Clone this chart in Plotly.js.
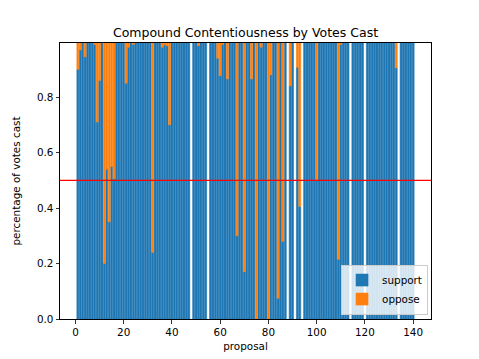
<!DOCTYPE html>
<html>
<head>
<meta charset="utf-8">
<script src="https://cdn.plot.ly/plotly-3.0.1.min.js"></script>
<style>
  html, body { margin: 0; padding: 0; background: #fff; }
  #graph { width: 479px; height: 359px; }
  #graph .bars path { shape-rendering: geometricPrecision !important; }
</style>
</head>
<body>
<div id="graph"></div>
<script>
// proposal numbers (48, 55, 88, 91, 94, 114, 120, 134 have no votes)
const proposals = [
    1, 2, 3, 4, 5, 6, 7, 8, 9, 10,
    11, 12, 13, 14, 15, 16, 17, 18, 19, 20,
    21, 22, 23, 24, 25, 26, 27, 28, 29, 30,
    31, 32, 33, 34, 35, 36, 37, 38, 39, 40,
    41, 42, 43, 44, 45, 46, 47,
    49, 50, 51, 52, 53, 54,
    56, 57, 58, 59, 60, 61, 62, 63, 64, 65,
    66, 67, 68, 69, 70, 71, 72, 73, 74, 75,
    76, 77, 78, 79, 80, 81, 82, 83, 84, 85,
    86, 87, 89, 90, 92, 93,
    95, 96, 97, 98, 99, 100, 101, 102, 103, 104,
    105, 106, 107, 108, 109, 110, 111, 112, 113,
    115, 116, 117, 118, 119,
    121, 122, 123, 124, 125, 126, 127, 128, 129, 130,
    131, 132, 133,
    135, 136, 137, 138, 139, 140
]

const support = [
    0.90, 0.97, 1, 0.945, 1, 1, 1, 0.99, 0.71, 0.86,
    1, 0.20, 0.54, 0.35, 0.55, 0.505, 1, 1, 1, 1,
    0.85, 0.98, 1, 0.99, 1, 1, 1, 1, 1, 1,
    1, 0.24, 1, 1, 1, 0.98, 0.99, 0.985, 0.70, 1,
    1, 1, 0.995, 1, 1, 1, 1,
    1, 1, 0.985, 1, 1, 1,
    1, 1, 1, 0.94, 0.877, 0.99, 1, 0.865, 1, 1,
    1, 0.30, 1, 1, 0.17, 1, 1, 0.865, 1, 0,
    1, 0.98, 1, 1, 0, 0.88, 1, 1, 0.075, 1,
    0.28, 1, 0.84, 1, 0.907, 0.405,
    1, 1, 1, 1, 1, 0.50, 1, 1, 1, 1,
    1, 1, 1, 1, 0.215, 0.99, 1, 1, 1,
    1, 1, 1, 1, 1,
    1, 1, 1, 1, 1, 1, 1, 1, 1, 1,
    1, 1, 0.905,
    1, 1, 1, 1, 1, 1
]

const oppose = [
    0.10, 0.03, 0, 0.055, 0, 0, 0, 0.01, 0.29, 0.14,
    0, 0.80, 0.46, 0.65, 0.45, 0.495, 0, 0, 0, 0,
    0.15, 0.02, 0, 0.01, 0, 0, 0, 0, 0, 0,
    0, 0.76, 0, 0, 0, 0.02, 0.01, 0.015, 0.30, 0,
    0, 0, 0.005, 0, 0, 0, 0,
    0, 0, 0.015, 0, 0, 0,
    0, 0, 0, 0.06, 0.123, 0.01, 0, 0.135, 0, 0,
    0, 0.70, 0, 0, 0.83, 0, 0, 0.135, 0, 1,
    0, 0.02, 0, 0, 1, 0.12, 0, 0, 0.925, 0,
    0.72, 0, 0.16, 0, 0.093, 0.595,
    0, 0, 0, 0, 0, 0.50, 0, 0, 0, 0,
    0, 0, 0, 0, 0.785, 0.01, 0, 0, 0,
    0, 0, 0, 0, 0,
    0, 0, 0, 0, 0, 0, 0, 0, 0, 0,
    0, 0, 0.095,
    0, 0, 0, 0, 0, 0
]

const yTicks = [0, 0.2, 0.4, 0.6, 0.8]
const xTicks = [0, 20, 40, 60, 80, 100, 120, 140]
const threshold = 0.5

const graphData = [
    {
        x: proposals,
        y: support,
        type: 'bar',
        name: 'support',
        width: 0.8,
        marker: { color: '#1f77b4', line: { width: 0.6, color: '#1f77b4' } }
    },
    {
        x: proposals,
        y: oppose,
        type: 'bar',
        name: 'oppose',
        width: 0.8,
        marker: { color: '#ff7f0e', line: { width: 0.6, color: '#ff7f0e' } }
    }
]

const axisStyle = {
    showline: true,
    mirror: true,
    linecolor: '#000',
    linewidth: 1,
    showgrid: false,
    zeroline: false,
    ticks: 'outside',
    ticklen: 3.5,
    tickwidth: 0.8,
    tickcolor: '#000',
    tickfont: { size: 10.4, color: '#000' }
}

const layout = {
    width: 479,
    height: 359,
    margin: { l: 60, r: 48, t: 43, b: 40 },
    paper_bgcolor: '#fff',
    plot_bgcolor: '#fff',
    font: { family: 'DejaVu Sans, sans-serif', color: '#000' },
    title: {
        text: 'Compound Contentiousness by Votes Cast',
        font: { size: 12.5, color: '#000' },
        x: 0.5,
        xref: 'paper',
        y: 0.908,
        yref: 'container',
        yanchor: 'middle'
    },
    barmode: 'stack',
    bargap: 0,
    showlegend: true,
    legend: {
        x: 0.992,
        y: 0.016,
        xanchor: 'right',
        yanchor: 'bottom',
        bgcolor: 'rgba(255,255,255,0.8)',
        bordercolor: '#cccccc',
        borderwidth: 1,
        font: { size: 10.4, color: '#000' },
        traceorder: 'normal',
        tracegroupgap: 0
    },
    xaxis: Object.assign({}, axisStyle, {
        range: [-6.4, 147.4],
        tickvals: xTicks,
        title: { text: 'proposal', font: { size: 10.4, color: '#000' }, standoff: 5 }
    }),
    yaxis: Object.assign({}, axisStyle, {
        range: [0, 0.995],
        tickvals: yTicks,
        tickformat: '.1f',
        title: { text: 'percentage of votes cast', font: { size: 10.4, color: '#000' }, standoff: 14 }
    }),
    shapes: [
        {
            type: 'line',
            xref: 'x domain',
            x0: 0,
            x1: 1,
            yref: 'y',
            y0: threshold,
            y1: threshold,
            line: { color: 'red', width: 1.2 }
        }
    ]
}

Plotly.newPlot('graph', graphData, layout, { staticPlot: true, displayModeBar: false })
</script>
</body>
</html>
